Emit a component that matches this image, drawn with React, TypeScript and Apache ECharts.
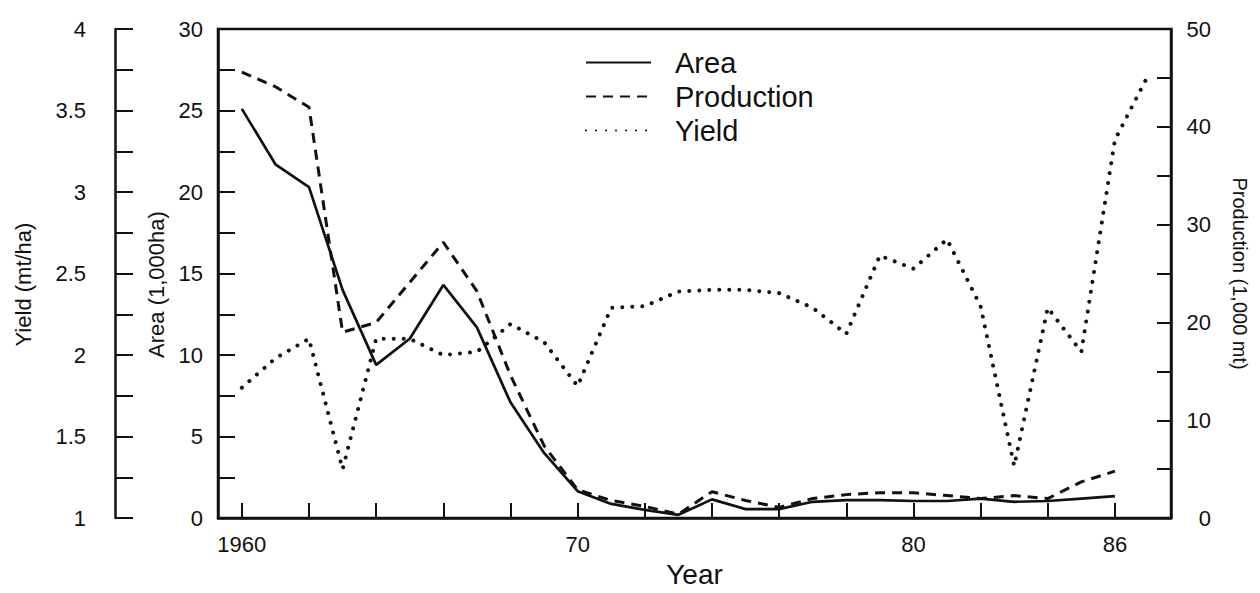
import React, { useEffect, useRef } from "react";
import * as echarts from "echarts";

// ---- data ----
const years = [
  1960, 1961, 1962, 1963, 1964, 1965, 1966, 1967, 1968, 1969,
  1970, 1971, 1972, 1973, 1974, 1975, 1976, 1977, 1978, 1979,
  1980, 1981, 1982, 1983, 1984, 1985, 1986,
];
// Area (1,000 ha)
const areaValues = [
  25.1, 21.7, 20.3, 14.0, 9.4, 11.0, 14.3, 11.7, 7.1, 4.0,
  1.65, 0.87, 0.5, 0.2, 1.15, 0.55, 0.55, 1.0, 1.1, 1.1,
  1.05, 1.05, 1.2, 1.0, 1.05, 1.2, 1.35,
];
// Production (1,000 mt)
const productionValues = [
  45.6, 44.1, 42.0, 19.0, 20.0, 24.1, 28.2, 23.2, 14.6, 7.4,
  2.9, 1.8, 1.2, 0.4, 2.7, 1.8, 1.1, 2.0, 2.4, 2.6,
  2.6, 2.3, 2.0, 2.3, 2.0, 3.7, 4.8,
];
// Yield (mt/ha) - the dotted line runs one year further in the picture
const yieldYears = [
  1960, 1961, 1962, 1963, 1964, 1965, 1966, 1967, 1968, 1969,
  1970, 1971, 1972, 1973, 1974, 1975, 1976, 1977, 1978, 1979,
  1980, 1981, 1982, 1983, 1984, 1985, 1986, 1987,
];
const yieldValues = [
  1.8, 1.98, 2.1, 1.3, 2.1, 2.1, 2.0, 2.02, 2.19, 2.08,
  1.81, 2.29, 2.3, 2.39, 2.4, 2.4, 2.38, 2.29, 2.13, 2.61,
  2.53, 2.71, 2.3, 1.32, 2.29, 2.02, 3.32, 3.72,
];
const xTickYears = [
  1960, 1962, 1964, 1966, 1968, 1970, 1972, 1974, 1976, 1978, 1980, 1982, 1984, 1986,
];
const xLabelYears = [1960, 1970, 1980, 1986];
const xLabelTexts = ["1960", "70", "80", "86"];
const seriesNames = ["Area", "Production", "Yield"];

const FONT = "'Liberation Sans', Arial, Helvetica, sans-serif";
const INK = "#111";

function near(v: number, step: number) {
  const q = v / step;
  return Math.abs(q - Math.round(q)) < 1e-6;
}

export default function App() {
  const ref = useRef<HTMLDivElement>(null);

  useEffect(() => {
    if (!ref.current) return;
    const chart = echarts.init(ref.current, undefined, { renderer: "svg" });

    const axisLine = { show: true, lineStyle: { color: INK, width: 2.5 } };
    const tickStyle = { color: INK, width: 2 };
    const labelStyle = { fontSize: 22, color: INK, fontFamily: FONT };
    const nameStyle = { fontSize: 22, color: INK, fontFamily: FONT };

    const option: any = {
      animation: false,
      backgroundColor: "#ffffff",
      textStyle: { fontFamily: FONT, color: INK },
      grid: {
        left: 218,
        right: 89,
        top: 29,
        bottom: 73,
        show: true,
        borderColor: INK,
        borderWidth: 2.5,
        backgroundColor: "transparent",
      },
      legend: {
        orient: "vertical",
        left: 580,
        top: 43,
        itemWidth: 65,
        itemHeight: 14,
        itemGap: 5,
        data: seriesNames,
        itemStyle: { opacity: 0 },
        textStyle: {
          fontSize: 29,
          color: INK,
          fontFamily: FONT,
          lineHeight: 28,
          padding: [0, 0, 0, 19],
        },
      },
      xAxis: {
        type: "value",
        min: 1959.29,
        max: 1987.67,
        name: "Year",
        nameLocation: "middle",
        nameGap: 40,
        nameTextStyle: { fontSize: 28, color: INK, fontFamily: FONT },
        axisLine,
        axisTick: {
          show: true,
          inside: true,
          length: 15,
          lineStyle: tickStyle,
          customValues: xTickYears,
        },
        axisLabel: {
          ...labelStyle,
          margin: 15,
          customValues: xLabelYears,
          formatter: (v: number) => {
            const i = xLabelYears.indexOf(Math.round(v));
            return i >= 0 ? xLabelTexts[i] : "";
          },
        },
        splitLine: { show: false },
      },
      yAxis: [
        {
          type: "value",
          position: "left",
          min: 0,
          max: 30,
          interval: 2.5,
          name: "Area (1,000ha)",
          nameLocation: "middle",
          nameRotate: 90,
          nameGap: 51,
          nameTextStyle: { ...nameStyle, padding: [0, 22, 0, 0] },
          axisLine,
          axisTick: { show: true, inside: true, length: 17, lineStyle: tickStyle },
          axisLabel: {
            ...labelStyle,
            margin: 15,
            formatter: (v: number) => (near(v, 5) ? String(v) : ""),
          },
          splitLine: { show: false },
        },
        {
          type: "value",
          position: "right",
          min: 0,
          max: 50,
          interval: 5,
          name: "Production (1,000 mt)",
          nameLocation: "middle",
          nameRotate: -90,
          nameGap: 59,
          nameTextStyle: { ...nameStyle, fontSize: 20 },
          axisLine,
          axisTick: { show: true, inside: true, length: 14, lineStyle: tickStyle },
          axisLabel: {
            ...labelStyle,
            margin: 40,
            align: "right",
            formatter: (v: number) => (near(v, 10) ? String(v) : ""),
          },
          splitLine: { show: false },
        },
        {
          type: "value",
          position: "left",
          offset: 103,
          min: 1,
          max: 4,
          interval: 0.25,
          name: "Yield (mt/ha)",
          nameLocation: "middle",
          nameRotate: 90,
          nameGap: 81,
          nameTextStyle: { ...nameStyle, padding: [0, 22, 0, 0] },
          axisLine,
          axisTick: { show: true, inside: true, length: 18, lineStyle: tickStyle },
          axisLabel: {
            ...labelStyle,
            margin: 29,
            formatter: (v: number) => (near(v, 0.5) ? String(v) : ""),
          },
          splitLine: { show: false },
        },
      ],
      series: [
        {
          name: "Area",
          type: "line",
          yAxisIndex: 0,
          symbol: "none",
          data: years.map((y, i) => [y, areaValues[i]]),
          lineStyle: { color: INK, width: 2.7, type: "solid" },
          itemStyle: { color: INK },
        },
        {
          name: "Production",
          type: "line",
          yAxisIndex: 1,
          symbol: "none",
          data: years.map((y, i) => [y, productionValues[i]]),
          lineStyle: { color: INK, width: 3, type: [10, 7] },
          itemStyle: { color: INK },
        },
        {
          name: "Yield",
          type: "line",
          yAxisIndex: 2,
          symbol: "none",
          data: yieldYears.map((y, i) => [y, yieldValues[i]]),
          lineStyle: { color: INK, width: 4, type: [0.01, 10], cap: "round" },
          itemStyle: { color: INK },
        },
      ],
    };

    chart.setOption(option);
    return () => chart.dispose();
  }, []);

  return (
    <div
      ref={ref}
      style={{ position: "fixed", left: 0, top: 0, width: 1260, height: 593, background: "#fff" }}
    />
  );
}
